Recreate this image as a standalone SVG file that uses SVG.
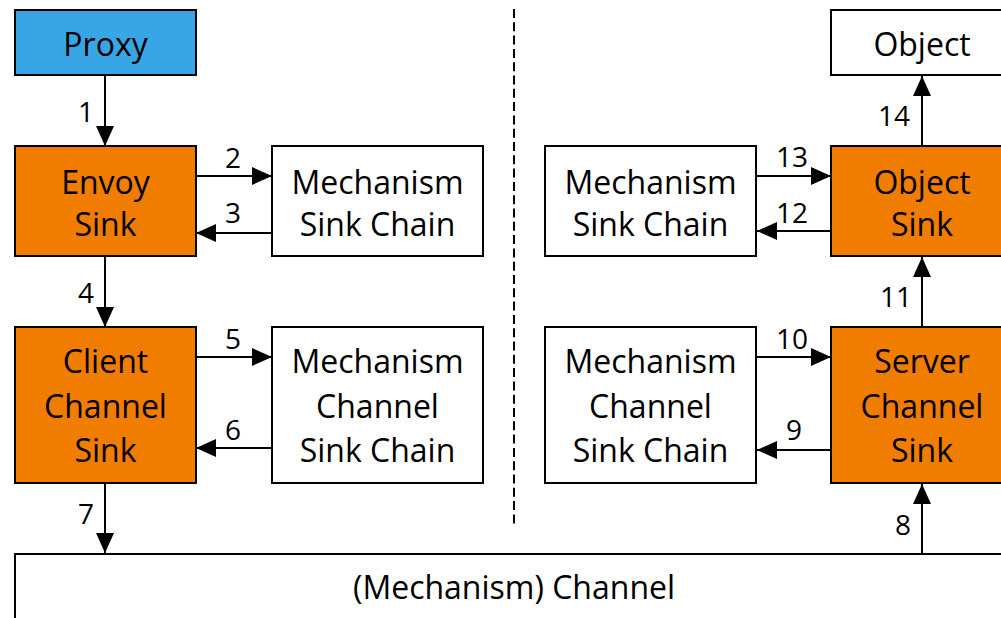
<svg xmlns="http://www.w3.org/2000/svg" width="1001" height="618" viewBox="0 0 1001 618">
  <defs>
    <marker id="arrow" markerWidth="20" markerHeight="18" refX="20" refY="9" orient="auto" markerUnits="userSpaceOnUse">
      <path d="M0,0 L20,9 L0,18 Z" fill="#000"/>
    </marker>
    <style>
      .box { stroke: #000; stroke-width: 2; }
      .proxy { fill: #38a6e4; }
      .sink { fill: #f07c00; }
      .plain { fill: #fff; }
      text { font-family: "Open Sans", "Noto Sans", sans-serif; fill: #000; }
      .lbl { font-size: 32px; text-anchor: middle; }
      .num { font-size: 28px; text-anchor: middle; }
      .conn { stroke: #000; stroke-width: 2; fill: none; marker-end: url(#arrow); }
      .divider { stroke: #000; stroke-width: 2; stroke-dasharray: 9 4.3; }
    </style>
  </defs>
  <rect width="1001" height="618" fill="#fff"/>

  <!-- client / server divider -->
  <line class="divider" x1="514" y1="9" x2="514" y2="524"/>

  <!-- client side -->
  <g id="proxy">
    <rect class="box proxy" x="15" y="10" width="181" height="65"/>
    <text class="lbl" x="105.5" y="56">Proxy</text>
  </g>
  <g id="envoy-sink">
    <rect class="box sink" x="15" y="146" width="181" height="110"/>
    <text class="lbl" x="105.5" y="194">Envoy</text>
    <text class="lbl" x="105.5" y="236">Sink</text>
  </g>
  <g id="client-mechanism-sink-chain">
    <rect class="box plain" x="272" y="146" width="211" height="110"/>
    <text class="lbl" x="377.5" y="194">Mechanism</text>
    <text class="lbl" x="377.5" y="236">Sink Chain</text>
  </g>
  <g id="client-channel-sink">
    <rect class="box sink" x="15" y="327" width="181" height="156"/>
    <text class="lbl" x="105.5" y="373">Client</text>
    <text class="lbl" x="105.5" y="418">Channel</text>
    <text class="lbl" x="105.5" y="462">Sink</text>
  </g>
  <g id="client-mechanism-channel-sink-chain">
    <rect class="box plain" x="272" y="327" width="211" height="156"/>
    <text class="lbl" x="377.5" y="373">Mechanism</text>
    <text class="lbl" x="377.5" y="418">Channel</text>
    <text class="lbl" x="377.5" y="462">Sink Chain</text>
  </g>

  <!-- server side -->
  <g id="object">
    <rect class="box plain" x="831" y="10" width="182" height="65"/>
    <text class="lbl" x="922" y="56">Object</text>
  </g>
  <g id="object-sink">
    <rect class="box sink" x="831" y="146" width="182" height="110"/>
    <text class="lbl" x="922" y="194">Object</text>
    <text class="lbl" x="922" y="236">Sink</text>
  </g>
  <g id="server-mechanism-sink-chain">
    <rect class="box plain" x="545" y="146" width="211" height="110"/>
    <text class="lbl" x="650.5" y="194">Mechanism</text>
    <text class="lbl" x="650.5" y="236">Sink Chain</text>
  </g>
  <g id="server-channel-sink">
    <rect class="box sink" x="831" y="327" width="182" height="156"/>
    <text class="lbl" x="922" y="373">Server</text>
    <text class="lbl" x="922" y="418">Channel</text>
    <text class="lbl" x="922" y="462">Sink</text>
  </g>
  <g id="server-mechanism-channel-sink-chain">
    <rect class="box plain" x="545" y="327" width="211" height="156"/>
    <text class="lbl" x="650.5" y="373">Mechanism</text>
    <text class="lbl" x="650.5" y="418">Channel</text>
    <text class="lbl" x="650.5" y="462">Sink Chain</text>
  </g>

  <!-- transport channel -->
  <g id="channel">
    <rect class="box plain" x="15" y="554" width="998" height="80"/>
    <text class="lbl" x="514" y="599">(Mechanism) Channel</text>
  </g>

  <!-- numbered message flow -->
  <g id="connectors">
    <line class="conn" x1="105" y1="76" x2="105" y2="146"/>
    <line class="conn" x1="197" y1="176" x2="272" y2="176"/>
    <line class="conn" x1="271" y1="233" x2="196" y2="233"/>
    <line class="conn" x1="105" y1="257" x2="105" y2="327"/>
    <line class="conn" x1="197" y1="357" x2="272" y2="357"/>
    <line class="conn" x1="271" y1="448" x2="196" y2="448"/>
    <line class="conn" x1="105" y1="484" x2="105" y2="553"/>
    <line class="conn" x1="922" y1="553" x2="922" y2="484"/>
    <line class="conn" x1="830" y1="450" x2="757" y2="450"/>
    <line class="conn" x1="757" y1="357" x2="831" y2="357"/>
    <line class="conn" x1="922" y1="326" x2="922" y2="257"/>
    <line class="conn" x1="830" y1="231" x2="757" y2="231"/>
    <line class="conn" x1="757" y1="176" x2="831" y2="176"/>
    <line class="conn" x1="922" y1="145" x2="922" y2="76"/>

    <text class="num" x="86" y="122">1</text>
    <text class="num" x="233" y="168">2</text>
    <text class="num" x="233" y="223">3</text>
    <text class="num" x="86" y="303">4</text>
    <text class="num" x="233" y="349">5</text>
    <text class="num" x="233" y="440">6</text>
    <text class="num" x="86" y="524">7</text>
    <text class="num" x="903" y="535">8</text>
    <text class="num" x="794" y="440">9</text>
    <text class="num" x="792" y="349">10</text>
    <text class="num" x="896" y="307">11</text>
    <text class="num" x="792" y="223">12</text>
    <text class="num" x="792" y="167">13</text>
    <text class="num" x="894" y="126">14</text>
  </g>
</svg>
